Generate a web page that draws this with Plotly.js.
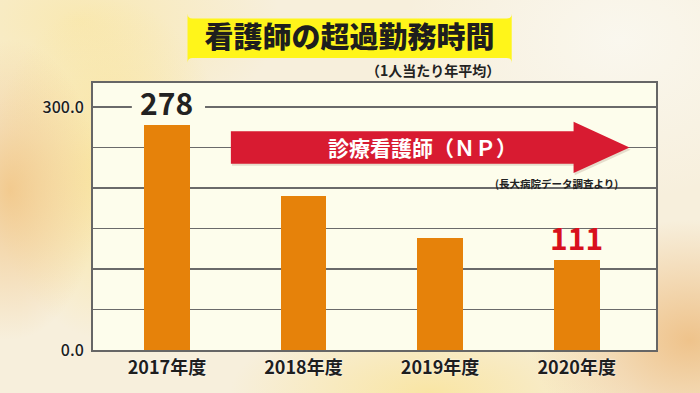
<!DOCTYPE html>
<html>
<head>
<meta charset="utf-8">
<script src="https://cdn.plot.ly/plotly-3.0.1.min.js"></script>
<style>
html,body{margin:0;padding:0;width:700px;height:393px;overflow:hidden;}
body{
  background:
    radial-gradient(ellipse 90px 150px at 10px 190px, rgba(240,190,120,0.75), rgba(240,190,120,0) 100%),
    radial-gradient(ellipse 120px 170px at 110px 170px, rgba(250,226,140,0.8), rgba(250,226,140,0) 100%),
    radial-gradient(ellipse 160px 120px at 690px 340px, rgba(238,190,130,0.9), rgba(238,190,130,0) 100%),
    radial-gradient(ellipse 200px 80px at 430px 393px, rgba(250,225,140,0.7), rgba(250,225,140,0) 100%),
    radial-gradient(ellipse 200px 120px at 80px 20px, rgba(250,228,150,0.6), rgba(250,228,150,0) 100%),
    radial-gradient(ellipse 220px 160px at 620px 40px, rgba(250,248,240,0.9), rgba(250,248,240,0) 100%),
    #f7efdc;
}
#chart{width:700px;height:393px;}
</style>
</head>
<body>
<div id="chart"></div>
<script>
// Data
var categories = ["2017年度", "2018年度", "2019年度", "2020年度"];
var hours = [278, 190, 138, 111];
var labeledIndex = [0, 3];
var labelColors = ["#222222", "#d8101c"];
var yTickVals = [0, 50, 100, 150, 200, 250, 300];
var yTickText = ["0.0", "", "", "", "", "", "300.0"];
var titleText = "看護師の超過勤務時間";
var subtitleText = "（1人当たり年平均）";
var arrowText = "診療看護師（ＮＰ）";
var sourceText = "(長大病院データ調査より)";

var jp = "'Noto Sans CJK JP', 'Noto Sans', sans-serif";

var trace = {
  type: "bar",
  x: categories,
  y: hours,
  width: 0.336,
  marker: {color: "#e6820a", line: {width: 0}},
  hoverinfo: "none"
};

var annotations = labeledIndex.map(function(i, k){
  return {
    x: categories[i], y: hours[i], xref: "x", yref: "y",
    text: String(hours[i]), showarrow: false,
    xanchor: "center", yanchor: "bottom", yshift: 0,
    borderpad: 0,
    font: {family: jp, size: 30, color: labelColors[k], weight: 600}
  };
});

annotations.push({
  xref: "paper", yref: "paper", x: 0.7265, y: 1.0487,
  xanchor: "right", yanchor: "middle", showarrow: false,
  text: subtitleText,
  font: {family: jp, size: 14, color: "#222", weight: 600}
});
annotations.push({
  xref: "paper", yref: "paper", x: 0.585, y: 0.760,
  xanchor: "center", yanchor: "middle", showarrow: false,
  text: arrowText,
  font: {family: jp, size: 21, color: "#ffffff", weight: 700}
});
annotations.push({
  xref: "paper", yref: "paper", x: 0.936, y: 0.622,
  xanchor: "right", yanchor: "middle", showarrow: false,
  text: sourceText,
  font: {family: jp, size: 10.5, color: "#222", weight: 600}
});

function roundRect(x0, y0, x1, y1, rx, ry){
  return "M" + (x0+rx) + "," + y0 +
    " L" + (x1-rx) + "," + y0 + " Q" + x1 + "," + y0 + " " + x1 + "," + (y0+ry) +
    " L" + x1 + "," + (y1-ry) + " Q" + x1 + "," + y1 + " " + (x1-rx) + "," + y1 +
    " L" + (x0+rx) + "," + y1 + " Q" + x0 + "," + y1 + " " + x0 + "," + (y1-ry) +
    " L" + x0 + "," + (y0+ry) + " Q" + x0 + "," + y0 + " " + (x0+rx) + "," + y0 + " Z";
}
function arrowPath(dx, dy){
  var bx0 = 0.2449 + dx, bx1 = 0.8536 + dx, tip = 0.9530 + dx;
  var by0 = 0.8191 + dy, by1 = 0.6978 + dy, hy0 = 0.8551 + dy, hy1 = 0.6629 + dy, ty = 0.7584 + dy;
  return "M" + bx0 + "," + by0 + " L" + bx1 + "," + by0 + " L" + bx1 + "," + hy0 +
    " L" + tip + "," + ty + " L" + bx1 + "," + hy1 + " L" + bx1 + "," + by1 +
    " L" + bx0 + "," + by1 + " Z";
}

var shapes = [
  {type: "path", xref: "paper", yref: "paper", layer: "above",
   path: roundRect(0.1679, 1.2416, 0.7437, 1.0936, 0.009, 0.019),
   fillcolor: "#fff51a", line: {width: 0}},
  {type: "rect", xref: "paper", yref: "paper", layer: "above",
   x0: 0.069, x1: 0.199, y0: 0.885, y1: 0.935,
   fillcolor: "#fdfdec", line: {width: 0}},
  {type: "path", xref: "paper", yref: "paper", layer: "above",
   path: arrowPath(0.002, -0.008), fillcolor: "rgba(120,80,60,0.18)", line: {width: 0}},
  {type: "path", xref: "paper", yref: "paper", layer: "above",
   path: arrowPath(0, 0), fillcolor: "#d81b31", line: {width: 0}}
];

var layout = {
  width: 700, height: 393,
  margin: {l: 93, r: 44, t: 83, b: 43, pad: 0},
  paper_bgcolor: "rgba(0,0,0,0)",
  plot_bgcolor: "#fdfdec",
  showlegend: false,
  bargap: 0,
  title: {
    text: titleText, x: 349.6/700, y: 1 - 38/393,
    xanchor: "center", yanchor: "middle", xref: "container", yref: "container",
    font: {family: jp, size: 29, color: "#1e1e1e", weight: 800}
  },
  xaxis: {
    type: "category", categoryarray: categories,
    range: [-0.541, 3.581], fixedrange: true,
    showline: true, mirror: true, linecolor: "#666", linewidth: 2,
    showgrid: false, ticks: "", zeroline: false,
    tickfont: {family: jp, size: 18, color: "#1e1e1e", weight: 600, shadow: "0px 0px 2px #ffffff"}
  },
  yaxis: {
    range: [0, 329.6], fixedrange: true,
    tickmode: "array", tickvals: yTickVals, ticktext: yTickText,
    showline: true, mirror: true, linecolor: "#666", linewidth: 2,
    showgrid: true, gridcolor: "#6a6a6a", gridwidth: 1.5,
    zeroline: false, ticks: "", ticklabelstandoff: 4,
    tickfont: {family: jp, size: 16, color: "#1e1e1e", weight: 500, shadow: "0px 0px 2px #ffffff"}
  },
  annotations: annotations,
  shapes: shapes
};

Plotly.newPlot("chart", [trace], layout, {displayModeBar: false, staticPlot: true});
</script>
</body>
</html>
